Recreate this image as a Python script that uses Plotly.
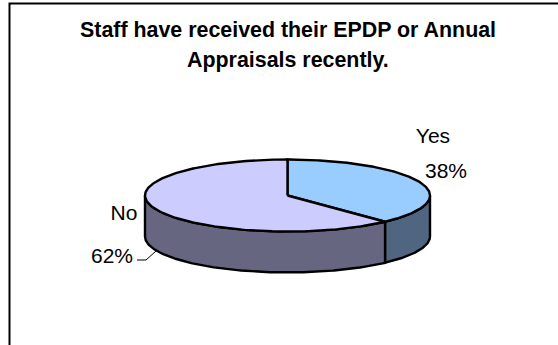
import numpy as np
import plotly.graph_objects as go

# Survey result
categories = ["Yes", "No"]
percentages = [38, 62]
title_lines = ["Staff have received their EPDP or Annual", "Appraisals recently."]

top_colours = ["#99CCFF", "#CCCCFF"]
side_colours = ["#4F6580", "#666680"]

# Pie geometry in page pixels
CX, CY, RX, RY, DEPTH = 287.5, 195.5, 142.5, 36, 41
FONT = "Liberation Sans, Arial, sans-serif"


def rim(start, end):
    """Points along the top ellipse, angles in degrees clockwise from twelve o'clock."""
    t = np.radians(np.linspace(start, end, 200))
    return CX + RX * np.sin(t), CY - RY * np.cos(t)


fig = go.Figure()

# Slice spans derived from the percentages
spans = []
angle = 0.0
for value in percentages:
    spans.append((angle, angle + value * 3.6))
    angle += value * 3.6

# Outer wall, only the part facing the viewer (90 to 270 degrees)
for (start, end), colour in zip(spans, side_colours):
    lo, hi = max(start, 90), min(end, 270)
    if lo >= hi:
        continue
    x, y = rim(lo, hi)
    fig.add_trace(go.Scatter(
        x=np.r_[x, x[::-1], x[0]], y=np.r_[y, y[::-1] + DEPTH, y[0]],
        mode="lines", fill="toself", fillcolor=colour,
        line=dict(color="black", width=2.4), hoverinfo="skip"))

# Top faces
for (start, end), colour in zip(spans, top_colours):
    x, y = rim(start, end)
    fig.add_trace(go.Scatter(
        x=np.r_[CX, x, CX], y=np.r_[CY, y, CY],
        mode="lines", fill="toself", fillcolor=colour,
        line=dict(color="black", width=2.4), hoverinfo="skip"))

# Leader line for the larger slice's label
fig.add_trace(go.Scatter(
    x=[137, 146, 156], y=[260, 260, 251], mode="lines",
    line=dict(color="black", width=1), hoverinfo="skip"))

# Slice labels
label_font = dict(family=FONT, size=21, color="black")
fig.add_trace(go.Scatter(
    x=[433, 446, 124, 112], y=[138, 173, 215, 258], mode="text",
    text=[categories[0], f"{percentages[0]}%", categories[1], f"{percentages[1]}%"],
    textfont=label_font, textposition="middle center", hoverinfo="skip"))

# Chart title
for line, y in zip(title_lines, [30, 60]):
    fig.add_annotation(x=288, y=y, text=f"<b>{line}</b>", showarrow=False,
                       xref="x", yref="y", font=dict(family=FONT, size=21.4, color="black"))

# Chart frame runs past the right and bottom of the page
fig.add_shape(type="rect", x0=9.5, y0=3.5, x1=600, y1=400,
              line=dict(color="black", width=2), layer="below")

fig.update_layout(
    width=558, height=345, margin=dict(l=0, r=0, t=0, b=0),
    paper_bgcolor="white", plot_bgcolor="white", showlegend=False,
    xaxis=dict(range=[0, 558], visible=False, fixedrange=True),
    yaxis=dict(range=[345, 0], visible=False, fixedrange=True),
)

fig.write_html("out.html", config={"displayModeBar": False})
